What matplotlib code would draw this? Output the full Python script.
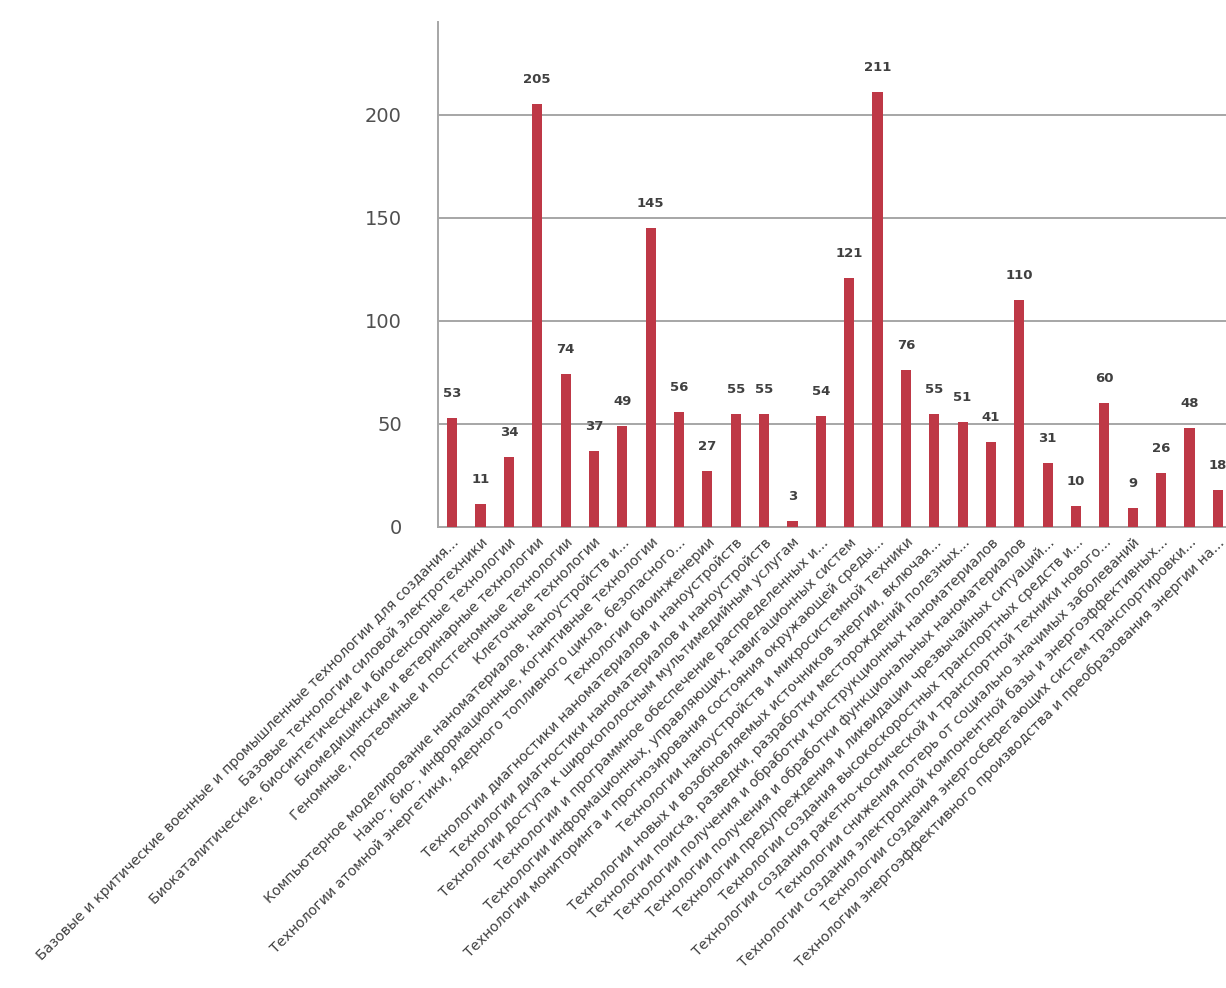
import matplotlib
matplotlib.use("Agg")
import matplotlib.pyplot as plt

categories = [
    "Базовые и критические военные и промышленные технологии для создания...",
    "Базовые технологии силовой электротехники",
    "Биокаталитические, биосинтетические и биосенсорные технологии",
    "Биомедицинские и ветеринарные технологии",
    "Геномные, протеомные и постгеномные технологии",
    "Клеточные технологии",
    "Компьютерное моделирование наноматериалов, наноустройств и...",
    "Нано-, био-, информационные, когнитивные технологии",
    "Технологии атомной энергетики, ядерного топливного цикла, безопасного...",
    "Технологии биоинженерии",
    "Технологии диагностики наноматериалов и наноустройств",
    "Технологии диагностики наноматериалов и наноустройств",
    "Технологии доступа к широкополосным мультимедийным услугам",
    "Технологии и программное обеспечение распределенных и...",
    "Технологии информационных, управляющих, навигационных систем",
    "Технологии мониторинга и прогнозирования состояния окружающей среды...",
    "Технологии наноустройств и микросистемной техники",
    "Технологии новых и возобновляемых источников энергии, включая...",
    "Технологии поиска, разведки, разработки месторождений полезных...",
    "Технологии получения и обработки конструкционных наноматериалов",
    "Технологии получения и обработки функциональных наноматериалов",
    "Технологии предупреждения и ликвидации чрезвычайных ситуаций...",
    "Технологии создания высокоскоростных транспортных средств и...",
    "Технологии создания ракетно-космической и транспортной техники нового...",
    "Технологии снижения потерь от социально значимых заболеваний",
    "Технологии создания электронной компонентной базы и энергоэффективных...",
    "Технологии создания энергосберегающих систем транспортировки...",
    "Технологии энергоэффективного производства и преобразования энергии на...",
]
values = [53, 11, 34, 205, 74, 37, 49, 145, 56, 27, 55, 55, 3, 54, 121,
          211, 76, 55, 51, 41, 110, 31, 10, 60, 9, 26, 48, 18]
yticks = [0, 50, 100, 150, 200]

W, H = 1226, 988
fig = plt.figure(figsize=(W / 100, H / 100), dpi=100)
ax = fig.add_axes([438 / W, (H - 527) / H, 794 / W, 505 / H])

x = list(range(len(values)))
ax.bar(x, values, width=0.36, color="#BE3846", zorder=3)
for xi, v in zip(x, values):
    ax.annotate(str(v), (xi, v), xytext=(0, 13), textcoords="offset points",
                ha="center", va="bottom", fontsize=9.5, fontweight="bold",
                color="#404040")

ax.set_xlim(-0.5, len(values) - 0.5)
ax.set_ylim(0, 245)
ax.set_yticks(yticks)
ax.set_yticklabels([str(t) for t in yticks], fontsize=14, color="#505050")
ax.yaxis.grid(True, color="#A6A6A6", linewidth=1.4, zorder=0)
ax.set_axisbelow(True)
ax.tick_params(axis="y", length=0, pad=26)
ax.tick_params(axis="x", length=0, pad=6)
ax.set_xticks(x)
ax.set_xticklabels(categories, rotation=45, ha="right", rotation_mode="anchor",
                   fontsize=10.2, color="#404040")
for s in ["top", "right"]:
    ax.spines[s].set_visible(False)
ax.spines["left"].set_color("#A6A6A6")
ax.spines["left"].set_linewidth(1.4)
ax.spines["bottom"].set_color("#A6A6A6")
ax.spines["bottom"].set_linewidth(1.4)

fig.savefig("out.png", dpi=100, facecolor="white")
